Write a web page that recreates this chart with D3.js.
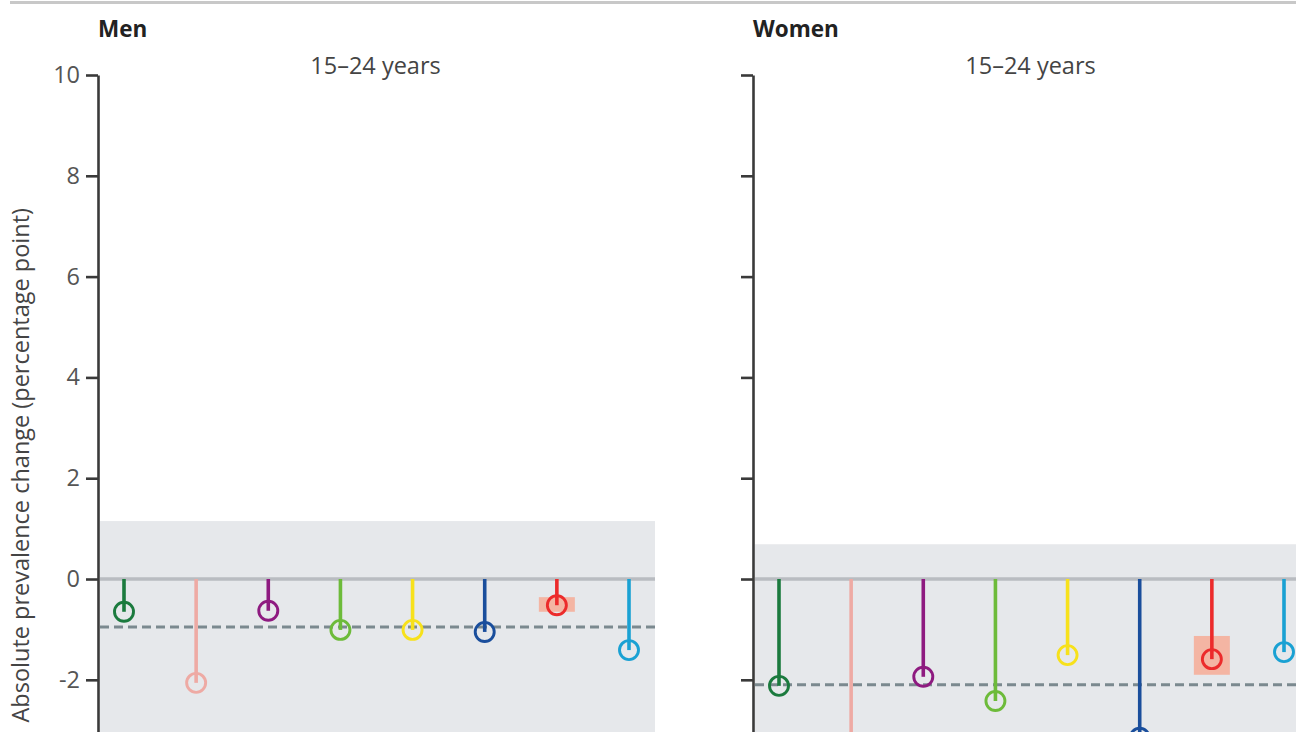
<!DOCTYPE html>
<html>
<head>
<meta charset="utf-8">
<script src="https://cdn.jsdelivr.net/npm/d3@7"></script>
<style>
  html, body { margin: 0; padding: 0; background: #fff; }
  svg { display: block; }
  text { font-family: "Open Sans", "Noto Sans", sans-serif; }
</style>
</head>
<body>
<svg id="chart" width="1296" height="732"></svg>
<script>
// Regions, one lollipop each, in drawing order
const regions = ["region1", "region2", "region3", "region4", "region5", "region6", "region7", "region8"];
const regionColors = ["#1b7a3e", "#eeaaa4", "#8e1a80", "#6dbb3a", "#f7e11b", "#1a4e9c", "#ec2b2b", "#1aa1d3"];

// Absolute prevalence change, 15–24 years (percentage points)
const menValues   = [-0.65, -2.06, -0.63, -1.01, -1.01, -1.05, -0.52, -1.41];
const womenValues = [-2.12, -3.60, -1.94, -2.42, -1.51, -3.15, -1.59, -1.45];

// Uncertainty interval shown for region7
const menInterval   = [-0.36, -0.65];
const womenInterval = [-1.13, -1.90];

// Reference lines: overall change (dashed) and upper edge of shaded band
const menOverall = -0.95, womenOverall = -2.10;
const menBandTop = 1.15,  womenBandTop = 0.69;

const yTicks = [-2, 0, 2, 4, 6, 8, 10];
const panelTitles = ["Men", "Women"];
const ageLabel = "15–24 years";
const yAxisTitle = "Absolute prevalence change (percentage point)";

const svg = d3.select("#chart");
const W = 1296, H = 732;

// thin rule across the top
svg.append("rect").attr("x", 10).attr("y", 1).attr("width", W - 10).attr("height", 3).attr("fill", "#c8c8c8");

const y = d3.scaleLinear().domain([-3.2, 10]).range([740.3, 75]);

const panels = [
  { title: panelTitles[0], x0: 98,  values: menValues,   interval: menInterval,   overall: menOverall,   band: menBandTop,   labels: true },
  { title: panelTitles[1], x0: 753, values: womenValues, interval: womenInterval, overall: womenOverall, band: womenBandTop, labels: false }
];

const panelWidth = 557;

panels.forEach(p => {
  const g = svg.append("g");
  const x = d3.scalePoint().domain(regions).range([p.x0 + 26, p.x0 + 531]);
  const left = p.x0 + 2, right = p.x0 + panelWidth;

  // shaded band
  g.append("rect")
    .attr("x", left).attr("y", y(p.band))
    .attr("width", right - left).attr("height", H + 20 - y(p.band))
    .attr("fill", "#e6e8eb");

  // zero line
  g.append("line")
    .attr("x1", left).attr("x2", right)
    .attr("y1", y(0)).attr("y2", y(0))
    .attr("stroke", "#b9bcc1").attr("stroke-width", 3.5);

  // overall change
  g.append("line")
    .attr("x1", left).attr("x2", right)
    .attr("y1", y(p.overall)).attr("y2", y(p.overall))
    .attr("stroke", "#7b898f").attr("stroke-width", 3)
    .attr("stroke-dasharray", "9,5");

  // uncertainty box for region7
  const ci = regions[6];
  g.append("rect")
    .attr("x", x(ci) - 18).attr("width", 36)
    .attr("y", y(p.interval[0])).attr("height", y(p.interval[1]) - y(p.interval[0]))
    .attr("fill", "#f6ab96").attr("opacity", 0.85);

  const data = regions.map((r, i) => ({ r, v: p.values[i], c: regionColors[i] }));

  // stems
  g.selectAll(".stem").data(data).join("line")
    .attr("x1", d => x(d.r)).attr("x2", d => x(d.r))
    .attr("y1", y(0)).attr("y2", d => y(d.v))
    .attr("stroke", d => d.c).attr("stroke-width", 3.6);

  // hollow markers
  g.selectAll(".dot").data(data).join("circle")
    .attr("cx", d => x(d.r)).attr("cy", d => y(d.v)).attr("r", 9.5)
    .attr("fill", "none").attr("stroke", d => d.c).attr("stroke-width", 2.9);

  // y axis
  const axis = d3.axisLeft(y).tickValues(yTicks).tickSize(12).tickSizeOuter(0).tickPadding(6)
    .tickFormat(d => p.labels ? (d < 0 ? "-" + Math.abs(d) : String(d)) : "");
  const ag = svg.append("g").attr("transform", `translate(${p.x0},0)`).call(axis);
  ag.select(".domain").attr("stroke", "#3a3a3a").attr("stroke-width", 2.6);
  ag.selectAll(".tick line").attr("stroke", "#3a3a3a").attr("stroke-width", 2.6);
  ag.selectAll(".tick text").attr("fill", "#555").attr("font-size", 23.5)
    .attr("font-family", "'Open Sans', sans-serif");

  // titles
  svg.append("text").attr("x", p.x0).attr("y", 37)
    .attr("font-size", 22.5).attr("font-weight", 700).attr("fill", "#222")
    .text(p.title);
  svg.append("text").attr("x", p.x0 + panelWidth / 2 - 1).attr("y", 74)
    .attr("text-anchor", "middle").attr("font-size", 23.5).attr("fill", "#444")
    .text(ageLabel);
});

// y axis title
svg.append("text")
  .attr("transform", "translate(29,208) rotate(-90)")
  .attr("text-anchor", "end").attr("font-size", 23.5).attr("fill", "#444")
  .text(yAxisTitle);
</script>
</body>
</html>
